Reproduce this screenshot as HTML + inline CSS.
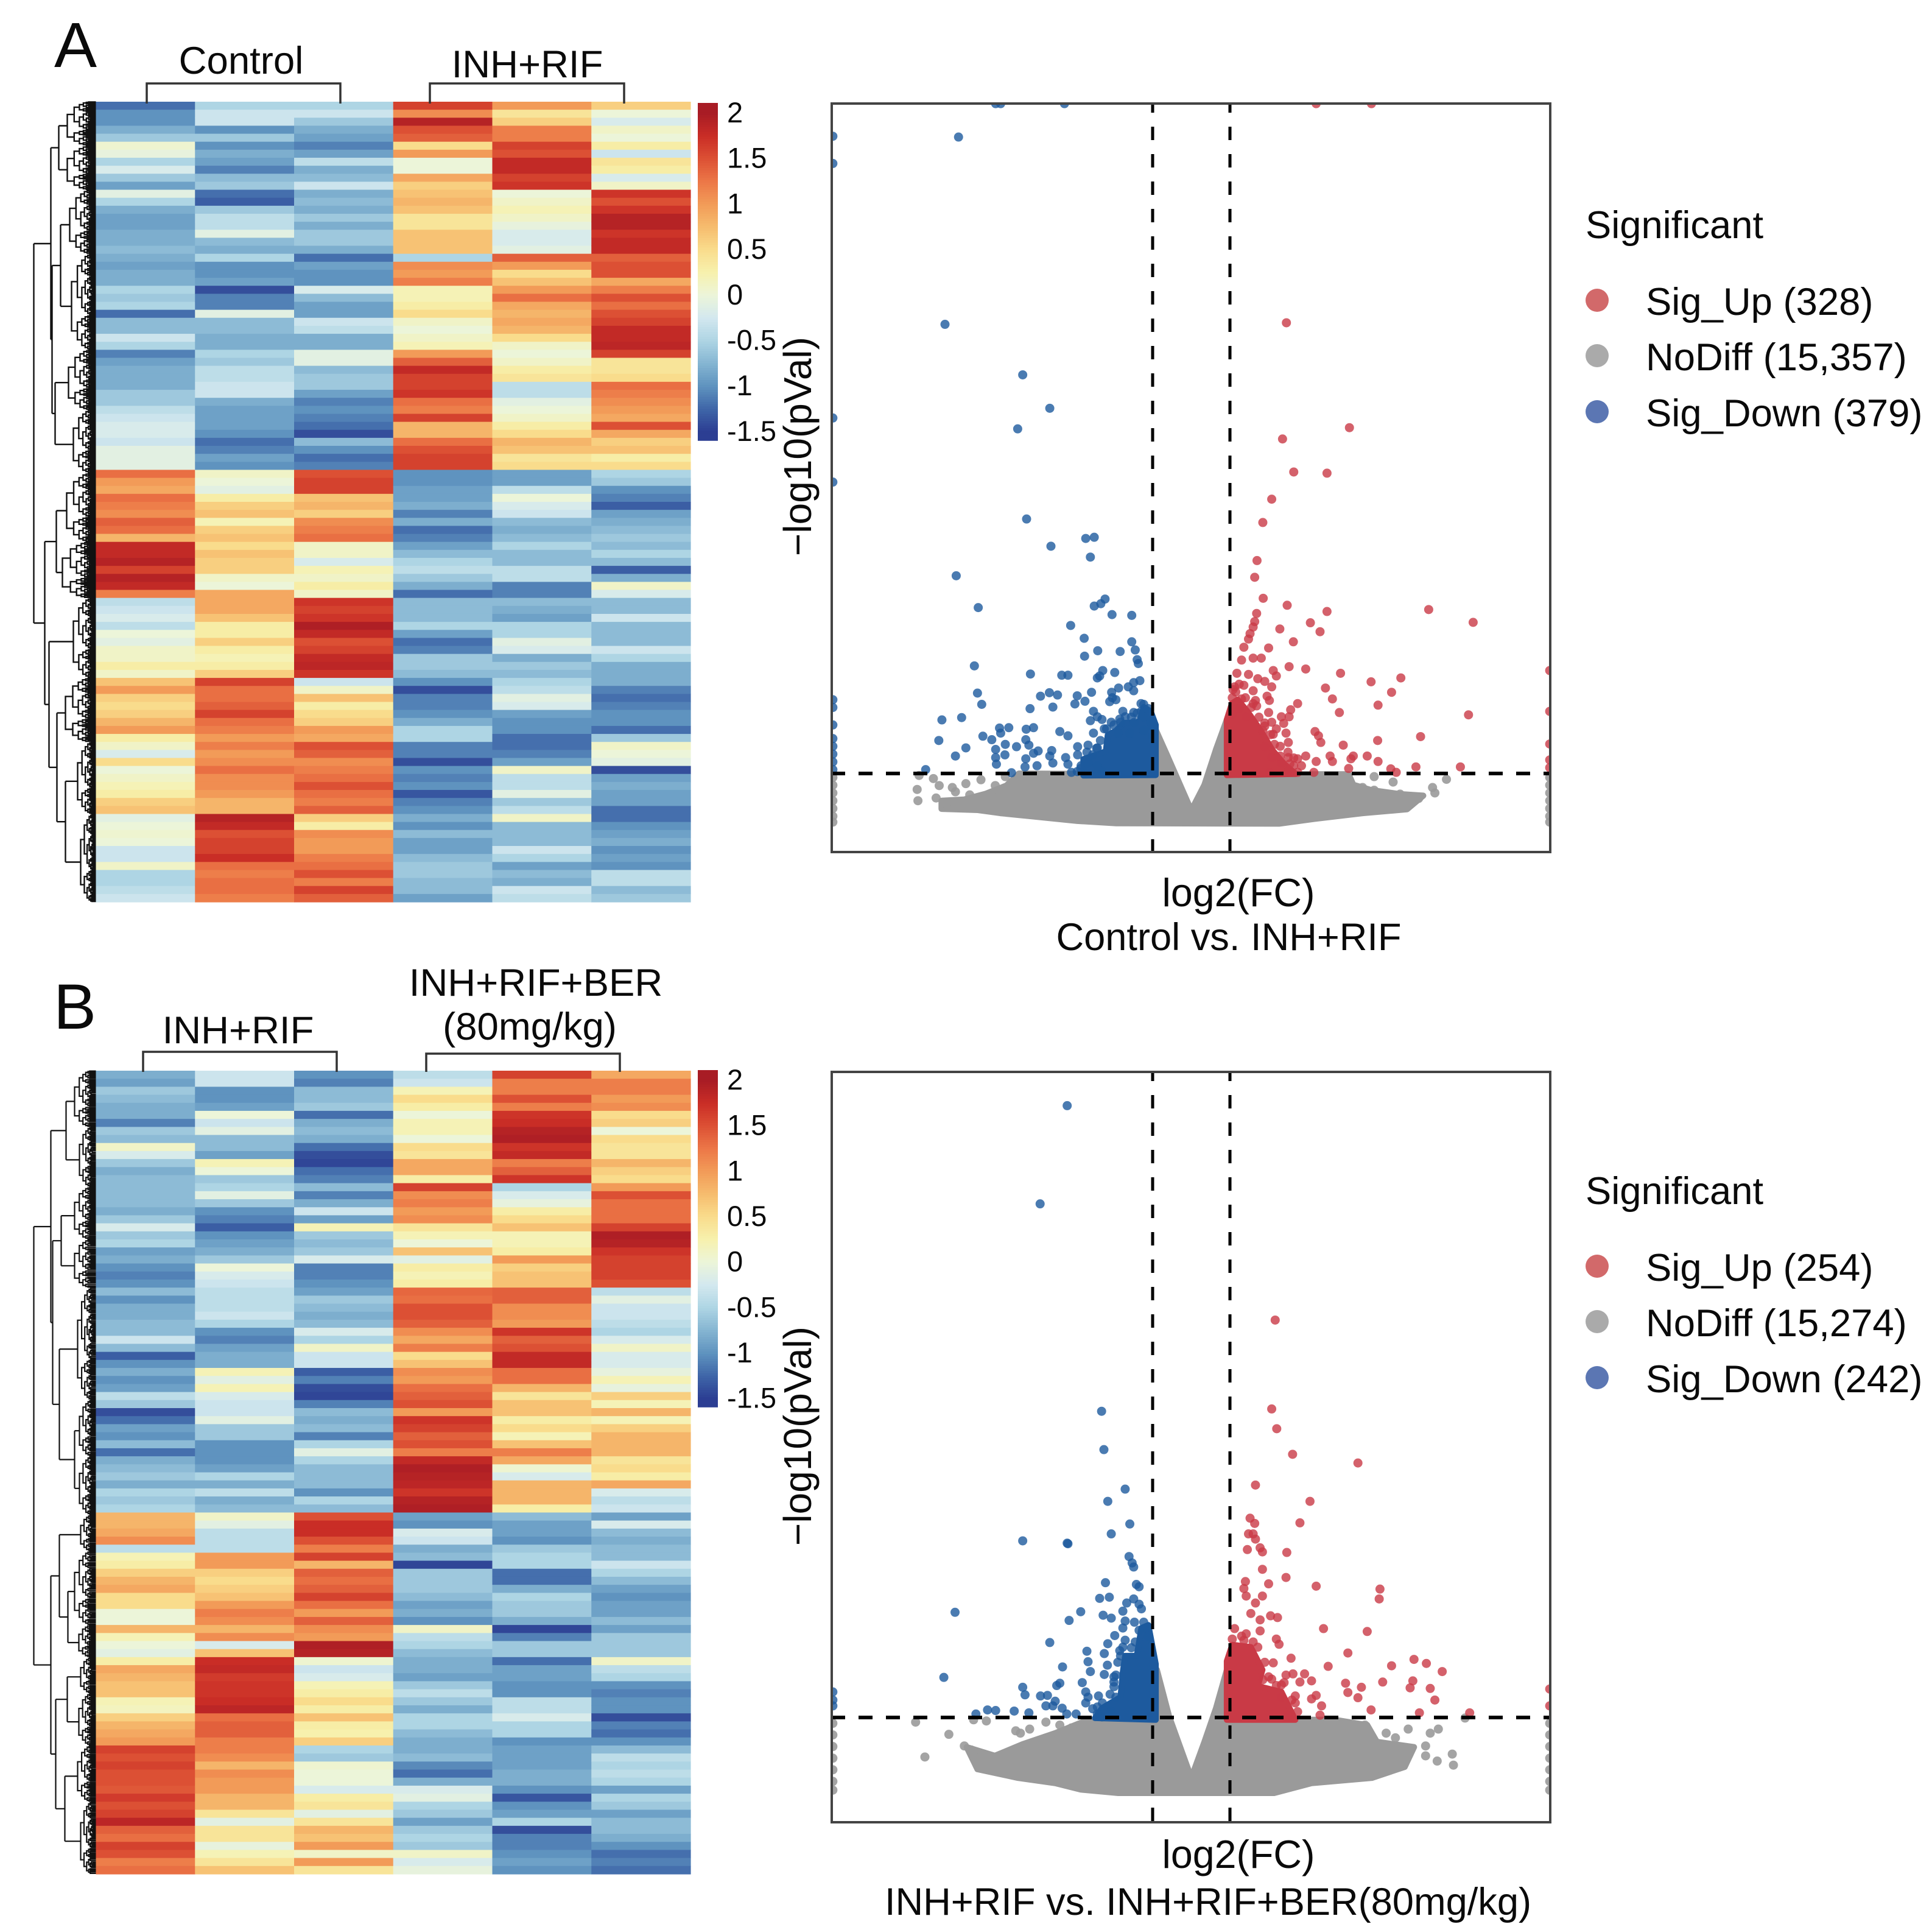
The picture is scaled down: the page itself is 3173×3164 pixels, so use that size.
<!DOCTYPE html>
<html lang="en">
<head>
<meta charset="utf-8">
<title>Heatmaps and volcano plots</title>
<style>
html,body{margin:0;padding:0;background:#fff}
svg{display:block}
text{font-family:"Liberation Sans",Arial,sans-serif;fill:#0a0a0a}
</style>
</head>
<body>
<svg id="fig" xmlns="http://www.w3.org/2000/svg" width="3173" height="3164" viewBox="0 0 3173 3164">
  <rect x="0" y="0" width="3173" height="3164" fill="#fff"/>
  <g id="layer-a"></g>
  <g id="layer-b"></g>

  <text x="89" y="110" font-size="105">A</text>
  <text x="88" y="1689" font-size="105">B</text>

  <text x="396" y="121" font-size="63.5" text-anchor="middle">Control</text>
  <text x="866" y="127" font-size="63.5" text-anchor="middle">INH+RIF</text>
  <path d="M241 170V137H559V170" fill="none" stroke="#333" stroke-width="3.5"/>
  <path d="M706 170V137H1025V170" fill="none" stroke="#333" stroke-width="3.5"/>

  <text x="391" y="1713" font-size="63.5" text-anchor="middle">INH+RIF</text>
  <text x="880" y="1635" font-size="63.5" text-anchor="middle">INH+RIF+BER</text>
  <text x="870" y="1707" font-size="63.5" text-anchor="middle">(80mg/kg)</text>
  <path d="M235 1760V1727H553V1760" fill="none" stroke="#333" stroke-width="3.5"/>
  <path d="M700 1760V1730H1018V1760" fill="none" stroke="#333" stroke-width="3.5"/>

  <text transform="translate(1332 733) rotate(-90)" font-size="64" text-anchor="middle">−log10(pVal)</text>
  <text x="2034" y="1488" font-size="64.5" text-anchor="middle">log2(FC)</text>
  <text x="2018" y="1560" font-size="63.2" text-anchor="middle">Control vs. INH+RIF</text>

  <text transform="translate(1332 2358) rotate(-90)" font-size="64" text-anchor="middle">−log10(pVal)</text>
  <text x="2034" y="3067" font-size="64.5" text-anchor="middle">log2(FC)</text>
  <text x="1984" y="3144" font-size="63.2" text-anchor="middle">INH+RIF vs. INH+RIF+BER(80mg/kg)</text>

  <g>
    <text x="2604" y="391" font-size="63.3">Significant</text>
    <circle cx="2623" cy="493" r="19" fill="#d2696a"/>
    <text x="2703" y="517" font-size="63.4">Sig_Up (328)</text>
    <circle cx="2623" cy="584" r="19" fill="#aaaaaa"/>
    <text x="2703" y="608" font-size="63.4">NoDiff (15,357)</text>
    <circle cx="2623" cy="676" r="19" fill="#5b76b3"/>
    <text x="2703" y="700" font-size="63.4">Sig_Down (379)</text>
  </g>
  <g>
    <text x="2604" y="1977" font-size="63.3">Significant</text>
    <circle cx="2623" cy="2079" r="19" fill="#d2696a"/>
    <text x="2703" y="2103" font-size="63.4">Sig_Up (254)</text>
    <circle cx="2623" cy="2170" r="19" fill="#aaaaaa"/>
    <text x="2703" y="2194" font-size="63.4">NoDiff (15,274)</text>
    <circle cx="2623" cy="2262" r="19" fill="#5b76b3"/>
    <text x="2703" y="2286" font-size="63.4">Sig_Down (242)</text>
  </g>
</svg>

<script>
/* ---------- colour scale ---------- */
const colorStops = [-1.5,-1.25,-1,-0.75,-0.5,-0.25,0,0.25,0.5,0.75,1,1.25,1.5,1.75,2];
const colorRamp = ["#2c3e93","#3f66a8","#5f93bf","#85b5d2","#aed5e4","#d3e8ef","#ecf5d9","#f7f1ad","#f9dc8c","#f6bc6e","#f29b58","#ec7747","#dc5034","#c92d26","#a81c25"];
const colorbarTicks = [2,1.5,1,0.5,0,-0.5,-1,-1.5];

/* ---------- heatmap A: one array per sample, top row first ---------- */
const heatA_control1 = [-1.2,-1,-1,-.8,-.6,.05,-.05,-.5,-.2,-.6,-.9,-.1,-.5,-.8,-.9,-.9,-.8,-.8,-.7,-.8,-.9,-.8,-.8,-.5,-.6,-.5,-1.2,-.7,-.7,-.3,-.5,-1.1,-.9,-.8,-.8,-.8,-.6,-.6,-.4,-.3,-.2,-.2,-.3,-.1,-.1,-.1,1.3,1,
 .9,1.3,1.2,1.1,1.4,1.3,.8,1.8,1.8,1.9,1.6,1.9,1.8,1.2,-.4,-.3,-.2,-.4,0,-.1,.1,.1,.3,.1,.7,1,.6,.5,.6,.8,1,.3,.1,-.2,.5,0,.1,.2,.3,.6,.7,-.1,0,.05,0,-.3,-.3,.1,-.5,-.5,-.4,-.3];
const heatA_control2 = [-.5,-.3,-.3,-1,-.6,-1,-.8,-.9,-1.1,-.7,-.6,-1.2,-1.3,-.6,-.4,-.4,-.1,-.7,-.8,-.5,-1,-1,-.9,-1.4,-1.1,-1.1,-.1,-.7,-.7,-.8,-.8,-.5,-.6,-.4,-.4,-.3,-.3,-.8,-.9,-.9,-.9,-1,-1.2,-1.1,-.9,-1,.1,0,
 -.1,.3,.6,.7,.2,.6,.7,.5,.7,.6,.6,.1,0,.9,.9,.9,.7,.3,.3,.6,.3,.2,.3,.6,1.6,1.3,1.3,1.4,1.6,1.3,1.2,1,1.2,1,1.1,1.3,1.1,1.1,1,.8,.8,1.9,1.8,1.5,1.6,1.6,1.75,1.3,1.2,1.3,1.3,1.2];
const heatA_control3 = [-.5,-.3,-.6,-.8,-.9,-1.1,-.9,-.4,-.8,-.7,-.3,-.8,-.7,-.8,-.6,-.8,-.6,-.6,-.8,-1.2,-.9,-1,-1,-.2,-.7,-.9,-.9,-.3,-.4,-.8,-.8,-.1,-.1,-.7,-.6,-.6,-.9,-1.1,-1,-1.1,-1.2,-1.4,-.7,-1,-1.2,-1.1,1.5,1.6,
 1.6,.7,.8,.6,1.1,1.2,1.3,.1,.1,-.2,.2,.1,.3,.1,1.7,1.6,1.7,1.95,1.8,1.5,1.6,1.8,1.85,1.7,-.3,.1,.7,.3,.5,.6,1,.9,1.5,1.4,1.1,1.2,1.3,1.5,1.3,1.2,1.4,.6,.3,1.1,1,1,1.2,1.3,1.5,1.2,1.6,1.4];
const heatA_inhrif1 = [1.6,1.1,1.9,1.5,1.4,.5,1,0,0,.9,.6,.7,.8,.7,.4,.4,.7,.7,.7,-.5,1.1,1,1.2,.2,.2,.3,.5,.1,0,.1,.2,1,1.4,1.8,1.6,1.6,1.7,1.3,1.2,1.6,.8,.8,1.3,1.5,1.6,1.6,-1,-1,
 -.9,-.9,-.8,-1.1,-.8,-1.2,-1.1,-.9,-.7,-.5,-.4,-.6,-.8,-1.2,-.7,-.7,-.7,-.5,-.9,-1.2,-1.1,-.6,-.6,-.7,-1,-1.4,-1.1,-1.1,-1,-.8,-.5,-.5,-1.1,-1.1,-1.4,-1,-1.1,-1,-1.35,-1.1,-1,-.8,-1,-.7,-.9,-.9,-.7,-.6,-.6,-.7,-.7,-.9];
const heatA_inhrif2 = [1,.4,.6,1.2,1.2,1.6,1.5,1.8,1.8,1.6,1.7,0,.1,.2,.1,-.05,-.2,-.2,-.1,1.4,1,.5,.7,1,1.3,.9,.8,.9,.8,.5,.1,0,.1,.3,.4,-.4,-.4,-.1,0,.1,.3,.5,.8,.7,.4,.5,-.9,-.9,
 -.4,0,-.2,-.3,-.7,-.8,-.7,-.5,-.7,-.7,-.4,-.4,-1.1,-1.1,-.7,-.8,-.9,-.5,-.5,-.1,-.2,-.8,-.6,-.7,-.5,-.4,-.1,-.2,-.9,-1,-1,-1.2,-1.2,-1.1,-.9,.1,-.4,-.4,-.1,-.6,-.4,.1,-.7,-.7,-.7,-.3,-.5,-.9,-.7,-.8,-.3,-.4];
const heatA_inhrif3 = [.6,0,-.2,.1,0,.3,-.3,.4,.3,-.2,.1,1.7,1.5,1.7,1.9,1.9,1.7,1.8,1.8,1.4,1.5,1.5,.9,1.2,1.5,1.3,1.5,1.6,1.8,1.8,1.85,1.6,.4,.4,.5,1.3,1.2,1.1,1,.9,1.5,.9,.6,.7,.3,.5,-.5,-.6,
 -1,-1.1,-1.3,-.9,-.8,-.7,-.6,-.7,-.5,-.7,-1.3,-.8,.1,-.2,-.7,-.7,-.3,-.7,-.7,-.7,-.3,-.5,-.8,-.8,-.8,-1.1,-1.2,-1.1,-1,-1,-1.2,-.6,.1,0,-.1,-1.4,-.9,-.8,-.9,-.9,-1.2,-1.2,-1,-.9,-.8,-1,-.9,-1,-.4,-.4,-.7,-.6];

/* ---------- heatmap B ---------- */
const heatB_inhrif1 = [-.8,-.9,-.6,-.7,-.8,-.8,-1.1,-.6,-.7,.1,-.2,-.6,-.8,-.7,-.7,-.7,-.7,-.8,-.6,-.2,-.6,-.5,-.9,-.8,-1,-1.1,-1,-.7,-1,-.8,-.8,-.7,-.7,-.3,-.7,-1.3,-1,-.8,-1,-.9,-.4,-.6,-1.4,-1.2,-.9,-1,-.7,-1.2,
 -.8,-.7,-.6,-.8,-.5,-.6,-.5,.8,.8,.9,1.1,-.4,.2,.3,.6,.8,.9,.5,.5,0,0,.8,.2,0,-.1,.3,.9,.8,.7,.7,.2,.15,.6,.8,.9,1,1.6,1.5,1.6,1.5,1.5,1.45,1.65,1.5,1.6,1.85,1.4,1.3,1.6,1.5,1.2,1.3];
const heatB_inhrif2 = [-.3,-.3,-1,-1,-.9,0,-.3,-.1,-.7,-.7,-.9,.2,0,-.6,-.5,-.1,-.6,-1,-1.1,-1.3,-1,-.9,-.8,-.6,0,-.2,-.3,-.4,-.4,-.4,-.3,-.5,-1,-1.1,-.9,-.8,-.8,.2,-.1,.2,-.2,-.3,-.3,-.1,-.6,-.6,-1,-1,
 -1,-.9,-.5,-.8,-.4,-.8,-.7,.1,-.1,-.4,-.4,-.4,1,1,.6,.5,.6,.7,1,1.2,1.1,.8,1.1,-.2,.7,1.75,1.8,1.65,1.7,1.7,1.75,1.85,1.3,1.4,1.4,1.2,1.2,1.1,.8,1.1,1,1,.8,.8,.4,-.1,.4,.4,-.05,.2,.4,.7];
const heatB_inhrif3 = [-1,-1.1,-.7,-.7,-.6,-1.2,-.8,-.7,-.8,-1.2,-1.4,-1.45,-1.2,-1.1,-.7,-1.1,-.8,-.3,-.9,.2,-.6,-.7,-.6,-.2,-1.1,-1.1,-1,-.9,-.6,-.7,-.8,-.7,-.2,-.5,.1,-.3,-.3,-1.3,-1.1,-1.4,-1.45,-1.1,-.7,-.8,-.7,-1.1,-.5,-.1,
 -.5,-.7,-.7,-.7,-1,-.5,-.7,1.5,1.75,1.75,1.5,1.2,1.6,.8,1.4,1.3,1.4,1.6,1.3,1,1.4,1.1,1,1.95,1.9,.05,-.3,-.2,.2,.3,.5,.3,.7,.3,.25,.6,-.5,-.6,.05,0,0,-.2,.3,.4,-.1,.4,.8,.7,1,.1,1,.4];
const heatB_ber1 = [-.4,-.3,.2,.5,.3,0,.2,.2,0,.5,.4,.9,.9,.3,1.6,1.1,1.2,1,1.1,.4,.2,0,.7,-.1,.3,.2,.3,1.35,1.3,1.5,1.5,1.4,1.1,.9,1.2,.5,.7,1.1,1,1.3,1.4,1.5,1,1.7,1.6,1.4,1.5,1.2,
 1.8,1.95,1.9,1.85,1.7,1.9,1.95,-.9,-1,-.2,-.3,-.8,-.7,-1.45,-.6,-.6,-.6,-.7,-.9,-.8,-1,.1,-.4,-.5,-.7,-.8,-.8,-.9,-.6,-.4,-.6,-.8,-.5,-.5,-.7,-.8,-.8,-.7,-1.05,-1.2,-.8,-.2,-.1,-.5,-.6,-.9,-.6,-.5,-.6,.1,-.2,-.05];
const heatB_ber2 = [1.6,1.2,1.2,1.5,1.2,1.7,1.75,1.9,1.95,1.7,1.8,1.2,1.4,1.7,-.5,-.2,-.05,.3,.5,.7,.2,.2,.3,1,.6,.7,.7,1.4,1.4,1.1,1.1,1,1.7,1.4,1.5,1.8,1.8,1.3,1.3,.8,.4,.7,.7,.3,.5,.2,.7,1.2,
 .9,.05,-.2,.8,.8,.8,.3,-.7,-.9,-.9,-1,-.6,-.5,-.5,-1.2,-1.2,-.8,-.5,-.6,-.6,-.8,-1.45,-1.1,-.6,-.6,-1.2,-.9,-.9,-1,-1,-.4,-.4,-.2,-.5,-.5,-1,-.9,-.9,-.9,-.8,-.8,-1,-1.35,-1,-.9,-.5,-1.4,-1.1,-1.1,-1,-.9,-1];
const heatB_ber3 = [.9,1.2,1.2,1,1.1,.5,.6,0,.5,.4,.4,.8,.6,.5,1,1.5,1.3,1.3,1.3,1.6,1.95,1.9,1.7,1.6,1.6,1.6,1.5,-.4,-.1,-.3,-.3,-.4,-.5,-.2,.1,-.2,-.2,-.05,.2,-.05,.6,.2,.8,.2,.6,.8,.8,.8,
 .4,.5,.3,.9,-.2,-.4,-.3,-.9,-.2,-.7,-.8,-.7,-.7,-.3,-.5,-.7,-.9,-1,-.9,-.9,-.7,-.9,-.6,-.6,-.6,.1,-.4,-.5,-1,-1.1,-1,-1,-1.4,-1.1,-1.2,-1,-.7,-.4,-.5,-.4,-.5,-.9,-.5,-.6,-.9,-.7,-.7,-.8,-1,-1.2,-1.1,-1.2];

/* ---------- dendrograms: [height, childA, childB]; leaf = {from,to,height} in row units ---------- */
const treeA = [102,
 [74,
  [61,{from:0,to:5.5,height:47},{from:5.5,to:11,height:47}],
  [72,
   [58,{from:11,to:19,height:43},{from:19,to:31,height:40}],
   [67,{from:31,to:38.5,height:45},{from:38.5,to:46.4,height:37}]]],
 [84,
  [65,{from:46.4,to:55,height:48},{from:55,to:62,height:55}],
  [77,
   {from:62,to:72,height:37},
   [64,{from:72,to:80,height:50},
    [50,{from:80,to:89,height:30},{from:89,to:100,height:25}]]]]];
const treeB = [102,
 [74,
  [49,{from:0,to:7,height:35},{from:7,to:14.5,height:27}],
  [71,
   [57,{from:14.5,to:21,height:35},{from:21,to:27,height:35}],
   [60,{from:27,to:41,height:30},
    [35,{from:41,to:48,height:27},{from:48,to:55.3,height:27}]]]],
 [74,
  [60,
   {from:55.3,to:59.8,height:25},
   [46,{from:59.8,to:69,height:35},{from:69,to:73,height:28}]],
  [66,
   [47,{from:73,to:77.5,height:25},{from:77.5,to:84,height:28}],
   [51,{from:84,to:91,height:30},{from:91,to:100,height:25}]]]];

/* ---------- volcano A: [log2FC, -log10 p] ---------- */
const volA_down = [[-4.93,18.54],[-5.06,18.54],[-3.28,18.54],[-9.27,17.7],[-9.27,17],[-6.02,17.68],[-6.37,12.86],[-4.36,11.56],[-3.66,10.7],[-4.49,10.17],[-9.27,10.45],[-9.27,8.8],[-4.26,7.85],[-3.63,7.15],[-2.73,7.35],[-2.51,7.38],[-2.61,6.87],[-6.08,6.39],[-5.51,5.57],
[-2.23,5.79],[-2.34,5.67],[-2.51,5.61],[-2.05,5.39],[-1.54,5.37],[-3.12,5.11],[-2.77,4.78],[-1.54,4.69],[-1.45,4.48],[-2.42,4.46],[-1.84,4.44],[-2.76,4.32],[-1.4,4.23],[-1.37,4.13],[-5.61,4.07],[-4.16,3.86],[-3.35,3.83],[-3.19,3.83],[-2.29,3.95],[-1.98,3.9],[-2.43,3.76],[-2.37,3.81],[-1.33,3.69],[-1.49,3.64],[-1.63,3.53],[-1.88,3.5],[-1.49,3.43],[-2.06,3.39],[-2.58,3.39],[-5.53,3.37],[-3.67,3.38],[-3.46,3.32],[-3.9,3.29],[-2.95,3.3],[-2.04,3.25],[-3.01,3.09],[-2.75,3.16],[-2.11,3.15],[-1.95,3.2],[-5.42,3.08],[-4.17,2.97],[-3.58,3.01],[-6.45,2.68],[-5.94,2.74],[-4.72,2.48],[-4.96,2.47],[-4.93,2.34],[-4.27,2.44],[-4.08,2.48],[-5.39,2.26],[-6.53,2.15],[-5.16,2.17],[-3.4,2.38],[-3.19,2.27],[-4.28,2.17],[-4.2,2.03],[-4.81,2.05],[-4.52,1.99],[-5.06,1.92],[-4.82,1.78],[-5.83,1.96],[-6.1,1.75],[-5.06,1.71],[-5.04,1.54],[-3.96,1.88],[-4.08,1.82],[-3.61,1.89],[-3.66,1.75],[-3.58,1.57],[-4.28,1.68],[-4.3,1.47],[-3.99,1.5],[-4.65,1.32],[-6.87,1.4],[-3.25,1.71],[-3.19,1.54],[-3.1,1.33],[-2.94,1.99],[-2.94,1.78],[-2.67,2.03],[-2.43,1.96],[-2.55,1.78],[-2.67,1.57],[-2.86,1.43],[-2.43,1.5],[-2.31,1.36],
[-2.53,2.9],[-2.43,2.76],[-2.61,2.66],[-2.31,2.69],[-2.53,2.34],[-2.07,2.62],[-2.19,2.45],[-1.77,2.9],[-1.83,2.62],[-1.23,3.08],[-1.11,2.97],[-1.29,2.9],[-1.49,2.87],[-1.71,2.76],[-1.23,2.76],[-1.05,2.62],[-1.47,2.62],[-1,2.48],[-1.89,2.34],[-1.59,2.34],[-1.23,2.41],[-1,2.27],
[-2.85,1.5],[-2.7,1.85],[-2.45,1.95],[-2.35,2.15],[-2.25,2.45],[-2,2.55],[-1.85,2.7],[-1.55,2.75],[-1.4,2.85],[-1.3,3.1],[-2.95,1.35],
[-9.27,3.2],[-9.27,3],[-9.27,2.55],[-9.27,2.2],[-9.27,2],[-9.27,1.8],[-9.27,1.6],[-9.27,1.4]];
const volA_downDense = [[-2.79,1.25],[-2.79,1.67],[-2.21,1.87],[-2.16,2.29],[-1.95,2.4],[-1.75,2.6],[-1.35,2.62],[-1.23,3.01],[-1.05,2.9],[-.92,2.55],[-.92,1.26]];
const volA_up = [[3.23,18.54],[4.66,18.54],[2.46,12.9],[4.09,10.2],[2.36,9.91],[2.65,9.06],[3.51,9.03],[2.08,8.36],[1.85,7.76],[1.7,6.78],
[1.64,6.35],[1.86,5.81],[2.48,5.63],[3.51,5.47],[1.69,5.42],[1.64,5.21],[1.6,5.07],[6.14,5.52],[7.29,5.19],[3.08,5.18],[2.29,5.02],[3.33,4.95],[1.52,4.9],[1.48,4.76],[2.64,4.69],[1.36,4.55],[2,4.53],[1.3,4.22],[1.6,4.27],[1.81,4.27],[2.53,4.05],[2.96,3.99],[2.12,3.95],[2.2,3.81],[3.86,3.88],[5.42,3.76],[4.65,3.66],[1.18,3.88],[1.48,3.85],[1.72,3.74],[1.9,3.67],[2.08,3.53],[3.47,3.5],[5.18,3.39],[1.12,3.53],[1.36,3.57],[1.6,3.43],[1.96,3.29],[3.65,3.22],[1.06,3.25],[1.3,3.22],[1.66,3.18],[2.02,3.18],[2.75,3.1],[4.83,3.06],[2.57,2.94],[3.83,2.87],[7.17,2.81],[1.69,3.04],[1.24,2.97],[2,2.87],[2.33,2.76],[2.53,2.76],[2.08,2.62],[2.39,2.59],[1.9,2.52],[2.2,2.45],[3.2,2.38],[3.29,2.27],[3.35,2.1],[2.45,2.34],[2.12,2.31],[5.93,2.25],[4.82,2.15],[2.51,2.1],[1.9,1.99],[3.93,2.03],[2.08,1.71],[2.51,1.71],[2.96,1.75],[3.59,1.75],[4.19,1.75],[4.55,1.75],[2.75,1.68],[3.23,1.61],[3.65,1.61],[4.13,1.68],[4.83,1.61],[2.33,1.57],[2.65,1.5],[4.07,1.43],[5.16,1.42],[5.3,1.33],[5.81,1.47],[6.96,1.47],[3.17,1.33],[2.02,1.33],[2.51,1.36],[2.75,1.33],
[1.08,3.46],[1.24,3.6],[1.15,3.4],[1.4,3.25],[1.55,3],[1.75,2.75],[1.6,3.1],[1.9,2.6],[2.05,2.3],[1.85,2.4],[2.15,2.05],[2.3,2],[2.5,1.85],[2.3,1.75],[2.65,1.7],[2.85,1.5],[2.55,1.55],[1.06,2.83],[1.42,2.76],
[9.27,3.95],[9.27,2.9],[9.27,2.06],[9.27,1.65],[9.27,1.45]];
const volA_upDense = [[.92,1.26],[.92,2.69],[1.05,3.1],[1.2,3.2],[1.45,2.9],[1.8,2.4],[2.1,1.9],[2.4,1.55],[2.7,1.29]];
const volA_noDiff = [[-7.04,1.25],[-6.67,1.17],[-6.52,.99],[-6.18,.94],[-5.83,1.04],[-5.44,1.14],[-7.09,.89],[-7.07,.6],[-6.6,.67],[-6.33,.52],[-5.94,.52],[-6.1,.83],[-5.73,.75],[-5.55,.47],[-5.07,.99],[-4.81,1.22],
[4.73,1.22],[5.22,1.08],[6.6,1.15],[6.24,.94],[6.3,.8],[4.43,.94],[4.73,.87],[5.16,.7],[5.52,.45],[5.88,.66],[5.4,.77],[4.67,.45],[4.19,.73],[5.1,.56],[5.64,.7],
[-9.27,1.2],[-9.27,1],[-9.27,.8],[-9.27,.6],[-9.27,.4],[-9.27,.2],[-9.27,.05],[9.27,1.2],[9.27,1],[9.27,.8],[9.27,.6],[9.27,.4],[9.27,.2],[9.27,.05]];
const volA_noDiffEnvelope = [[-6.46,.39],[-6.46,.6],[-5.88,.63],[-5.31,.78],[-4.78,.99],[-4.46,1.3],[-.93,1.28],[-.93,2.45],[-.63,1.78],[0,.35],[.34,1.01],[.64,1.92],[.92,2.69],[1.06,1.28],[4.07,1.28],[4.19,1.01],[4.67,.87],[5.4,.77],[6,.73],[5.58,.38],[4.43,.28],[3.23,.14],[2.27,.01],[-1.94,.02],[-2.95,.08],[-4.15,.2],[-4.94,.28],[-5.52,.36]];

/* ---------- volcano B ---------- */
const volB_down = [[-3.21,11.83],[-3.91,10.14],[-2.32,6.57],[-2.26,5.91],[-4.36,4.34],[-3.21,4.3],[-6.11,3.11],[-6.4,1.99],[-1.71,5.23],[-2.16,5.02],
[-1.59,4.63],[-2.07,4.46],[-3.19,4.29],[-1.61,4.07],[-1.53,3.96],[-1.49,3.89],[-2.22,3.62],[-1.42,3.59],[-1.35,3.55],[-2.37,3.35],[-2.12,3.37],[-1.49,3.34],[-1.67,3.27],[-1.35,3.25],[-1.29,3.17],[-1.77,3.13],[-2.86,3.12],[-2.28,3.06],[-2.07,3.01],[-3.16,2.97],[-1.71,2.96],[-1.47,2.94],[-1.23,2.94],[-1.77,2.84],[-1.17,2.84],[-1.98,2.71],[-1.11,2.7],[-1.71,2.63],[-2.16,2.57],[-3.66,2.59],[-1.77,2.51],[-2.7,2.44],[-2.25,2.4],[-1.83,2.36],[-2.67,2.26],[-2.17,2.2],[-3.33,2.17],[-2.61,2.09],[-2.25,2.04],[-1.95,2.03],[-2,1.91],[-2.82,1.9],[-3.4,1.89],[-3.48,1.85],[-4.36,1.82],[-2,1.83],[-4.3,1.69],[-2.73,1.74],[-2.67,1.65],[-2.4,1.67],[-3.9,1.67],[-3.72,1.68],[-1.95,1.65],[-2.73,1.55],[-3.52,1.58],[-3.76,1.5],[-3.58,1.5],[-3.34,1.46],[-5.27,1.43],[-5.06,1.42],[-4.58,1.41],[-4.2,1.38],[-5.57,1.36],[-3.22,1.36],[-2.98,1.36],[-2.43,1.48],[-2.43,1.36],[-2.07,1.41],[-2.31,1.31],
[-2.55,1.45],[-2.3,1.55],[-2.1,1.7],[-2,2],[-1.9,2.25],[-1.85,2.45],[-1.55,2.5],[-1.45,2.6],[-1.35,2.8],
[-9.27,1.74],[-9.27,1.5],[-9.27,1.6]];
const volB_downDense = [[-2.49,1.29],[-2.31,1.46],[-1.83,1.65],[-1.77,2.08],[-1.71,2.36],[-1.41,2.36],[-1.29,2.84],[-1.11,2.89],[-.92,2.22],[-.92,1.26]];
const volB_up = [[2.17,8.14],[2.08,6.61],[2.21,6.27],[2.62,5.83],[4.31,5.68],[1.66,5.3],[3.07,5.02],
[1.52,4.73],[1.64,4.64],[2.81,4.65],[1.48,4.46],[1.6,4.46],[1.66,4.37],[1.45,4.19],[1.78,4.22],[1.84,4.15],[2.47,4.14],[1.84,3.85],[2.45,3.71],[1.4,3.64],[2,3.6],[1.36,3.52],[3.23,3.56],[4.88,3.51],[4.86,3.34],[1.42,3.39],[1.84,3.39],[1.66,3.27],[1.54,3.09],[2.05,3.05],[2.23,3.02],[1.78,2.98],[1.12,2.83],[3.42,2.83],[4.55,2.78],[1.42,2.74],[1.78,2.79],[2.2,2.65],[2.27,2.56],[1.36,2.63],[1.72,2.51],[4.05,2.41],[2.58,2.32],[5.76,2.3],[6.08,2.23],[5.18,2.19],[3.54,2.18],[2.12,2.24],[6.49,2.09],[2.63,2.05],[2.45,2.03],[2.93,2.05],[2.08,1.96],[3.11,1.93],[2.81,1.91],[3.99,1.89],[4.95,1.91],[5.73,1.93],[4.4,1.82],[5.66,1.81],[6.18,1.8],[4.05,1.73],[2.33,1.86],[4.31,1.64],[6.3,1.6],[3.23,1.68],[2.69,1.67],[3.11,1.62],[3.37,1.5],[2.69,1.55],[2.33,1.65],[4.65,1.43],[5.9,1.38],[7.2,1.38],[3.33,1.34],[2.51,1.34],
[1.06,2.65],[1.3,2.7],[1.6,2.6],[1.9,2.25],[2,2],[1.85,1.95],[2.4,1.9],[2.6,1.6],[2.75,1.4],[2.2,1.85],
[9.27,1.79],[9.27,1.5]];
const volB_upDense = [[.92,1.26],[.92,2.27],[1.06,2.55],[1.54,2.51],[1.84,2.12],[1.72,1.84],[2.33,1.74],[2.69,1.26]];
const volB_noDiff = [[-7.13,1.22],[-6.27,1.01],[-6.89,.62],[-5.87,.81],[-5.69,.74],[-5.51,.6],[-5.3,1.24],[-5.63,1.26],[-4.54,1.07],[-4.42,1.03],[-4.18,1.1],[-3.76,1.22],[-3.4,1.17],[-3.1,1.12],[4.49,1.17],[5.61,1.1],[6.18,1.03],[6.39,1.1],[7.08,1.29],[6.75,.67],[6.78,.48],[6.36,.55],[6.06,.81],[6.06,.64],[5.04,1.03],[5.28,.95],
[-9.27,1.2],[-9.27,1],[-9.27,.8],[-9.27,.6],[-9.27,.4],[-9.27,.2],[-9.27,.05],[9.27,1.2],[9.27,1],[9.27,.8],[9.27,.6],[9.27,.4],[9.27,.2],[9.27,.05]];
const volB_noDiffEnvelope = [[-5.53,.41],[-5.81,.79],[-5.08,.64],[-4.36,.84],[-3.52,1.03],[-2.67,1.26],[-.93,1.26],[-.89,2.12],[-.57,1.31],[0,.26],[.34,.88],[.64,1.46],[.92,2.12],[1.04,1.26],[3.71,1.26],[4.55,1.17],[4.8,.88],[5.76,.79],[5.52,.45],[4.67,.26],[3.11,.17],[2.14,0],[-1.89,0],[-2.86,.06],[-3.52,.17],[-4.48,.26]];

/* thresholds */
const foldThreshold = [-1, 1];
const pThreshold = 1.3;

/* ---------- helpers ---------- */
const NS = 'http://www.w3.org/2000/svg';
function mk(parent, tag, attrs){
  const el = document.createElementNS(NS, tag);
  for (const k in attrs) el.setAttribute(k, attrs[k]);
  parent.appendChild(el);
  return el;
}
function hex(c){ return [parseInt(c.slice(1,3),16),parseInt(c.slice(3,5),16),parseInt(c.slice(5,7),16)]; }
function colorOf(v){
  const lo = colorStops[0], hi = colorStops[colorStops.length-1];
  v = Math.max(lo, Math.min(hi, v));
  let i = 0;
  while (i < colorStops.length-2 && v > colorStops[i+1]) i++;
  const t = (v-colorStops[i])/(colorStops[i+1]-colorStops[i]);
  const a = hex(colorRamp[i]), b = hex(colorRamp[i+1]);
  return 'rgb('+a.map((p,j)=>Math.round(p+(b[j]-p)*t)).join(',')+')';
}

function drawHeatmap(g, columns, box, tag){
  const colW = (box.x1-box.x0)/columns.length;
  columns.forEach((col, c) => {
    const rowH = (box.y1-box.y0)/col.length;
    col.forEach((v, r) => {
      const cell = mk(g, 'rect', {
        x: box.x0 + c*colW,
        y: box.y0 + r*rowH,
        width: colW + 0.6,
        height: rowH + 0.6,
        fill: colorOf(v)
      });
      
      
    });
  });
}

function drawColorbar(g, box, tag){
  const yOf = v => box.y2 + (2 - v) * box.unit;
  const vTop = 2 + (box.y2 - box.top) / box.unit;
  const vBottom = 2 - (box.bottom - box.y2) / box.unit;
  const steps = 140;
  for (let i = 0; i < steps; i++) {
    const v = vTop - (vTop - vBottom) * i / steps;
    const seg = mk(g, 'rect', {
      x: box.x, y: yOf(v), width: box.w, height: (box.bottom-box.top)/steps + 0.8, fill: colorOf(v)
    });
    
    
  }
  colorbarTicks.forEach(t => {
    const lab = mk(g, 'text', { x: box.x + 48, y: yOf(t) + 17, 'font-size': 47 });
    lab.textContent = String(t);
    
    
  });
}

function drawDendrogram(g, tree, box, rows, minSpan, width, shrink, tag){
  const rowH = (box.y1-box.y0)/rows;
  const xOf = h => box.x0 - h;
  const yOf = r => box.y0 + r*rowH;
  let d = '';
  function comb(a, b, h, flip){
    const span = (b-a)*rowH;
    if (span < minSpan) {
      const ym = yOf((a+b)/2);
      d += 'M'+xOf(h).toFixed(1)+' '+ym.toFixed(1)+'H'+box.x0;
      return ym;
    }
    const f = flip ? 0.36 : 0.64;
    const m = a + (b-a)*f;
    const hk = h*shrink;
    const y1 = comb(a, m, hk, !flip);
    const y2 = comb(m, b, hk, !flip);
    const x = xOf(h).toFixed(1);
    d += 'M'+xOf(hk).toFixed(1)+' '+y1.toFixed(1)+'H'+x+'V'+y2.toFixed(1)+'H'+xOf(hk).toFixed(1);
    return (y1+y2)/2;
  }
  function walk(node, parentH){
    let y;
    if (Array.isArray(node)) {
      const y1 = walk(node[1], node[0]);
      const y2 = walk(node[2], node[0]);
      const x = xOf(node[0]).toFixed(1);
      d += 'M'+x+' '+y1.toFixed(1)+'V'+y2.toFixed(1);
      y = (y1+y2)/2;
      if (parentH !== null) d += 'M'+xOf(parentH).toFixed(1)+' '+y.toFixed(1)+'H'+x;
    } else {
      y = comb(node.from, node.to, node.height, false);
      d += 'M'+xOf(parentH).toFixed(1)+' '+y.toFixed(1)+'H'+xOf(node.height).toFixed(1);
    }
    return y;
  }
  walk(tree, null);
  const p = mk(g, 'path', { d: d, fill: 'none', stroke: '#111', 'stroke-width': width });
  
  
}

function drawVolcano(g, vol, tag){
  const xOf = v => vol.xZero + vol.xUnit*v;
  const yOf = v => vol.yZero - vol.yUnit*v;
  const ptsOf = list => list.map(p => xOf(p[0]).toFixed(1)+','+yOf(p[1]).toFixed(1)).join(' ');
  const clipId = 'clip-' + tag;
  const defs = mk(g, 'defs', {});
  const cp = mk(defs, 'clipPath', { id: clipId });
  mk(cp, 'rect', { x: vol.x0, y: vol.y0, width: vol.x1-vol.x0, height: vol.y1-vol.y0 });
  const plot = mk(g, 'g', { 'clip-path': 'url(#'+clipId+')' });
  
  

  const env = mk(plot, 'polygon', {
    points: ptsOf(vol.envelope),
    fill: '#9a9a9a', stroke: '#9a9a9a', 'stroke-width': 10, 'stroke-linejoin': 'round'
  });
  
  

  vol.noDiff.forEach(p => {
    const dot = mk(plot, 'circle', { cx: xOf(p[0]), cy: yOf(p[1]), r: 7.5, fill: '#9a9a9a', 'fill-opacity': 0.9 });
    
    
  });

  const upEnv = mk(plot, 'polygon', {
    points: ptsOf(vol.upDense),
    fill: '#c93a46', stroke: '#c93a46', 'stroke-width': 10, 'stroke-linejoin': 'round'
  });
  
  

  vol.up.forEach(p => {
    const dot = mk(plot, 'circle', { cx: xOf(p[0]), cy: yOf(p[1]), r: 7.5, fill: '#c93a46', 'fill-opacity': 0.8 });
    
    
  });

  const downEnv = mk(plot, 'polygon', {
    points: ptsOf(vol.downDense),
    fill: '#1d5a9e', stroke: '#1d5a9e', 'stroke-width': 10, 'stroke-linejoin': 'round'
  });
  
  

  vol.down.forEach(p => {
    const dot = mk(plot, 'circle', { cx: xOf(p[0]), cy: yOf(p[1]), r: 7.5, fill: '#1d5a9e', 'fill-opacity': 0.8 });
    
    
  });

  foldThreshold.forEach(v => {
    const line = mk(g, 'line', {
      x1: xOf(v), x2: xOf(v), y1: vol.y0, y2: vol.y1,
      stroke: '#000', 'stroke-width': 5, 'stroke-dasharray': '22 23', 'stroke-dashoffset': 7
    });
    
    
  });
  const h = mk(g, 'line', {
    x1: vol.x0, x2: vol.x1, y1: yOf(pThreshold), y2: yOf(pThreshold),
    stroke: '#000', 'stroke-width': 6, 'stroke-dasharray': '23 22', 'stroke-dashoffset': 1
  });
  
  

  const frame = mk(g, 'rect', {
    x: vol.x0, y: vol.y0, width: vol.x1-vol.x0, height: vol.y1-vol.y0,
    fill: 'none', stroke: '#444', 'stroke-width': 4
  });
  
  
}

/* ---------- compose ---------- */
const layerA = document.getElementById('layer-a');
const layerB = document.getElementById('layer-b');

const boxA = { x0: 157.5, x1: 1134, y0: 167, y1: 1481 };
const boxB = { x0: 157.5, x1: 1134, y0: 1758, y1: 3077 };

drawHeatmap(layerA, [heatA_control1,heatA_control2,heatA_control3,heatA_inhrif1,heatA_inhrif2,heatA_inhrif3], boxA, 'a');
drawDendrogram(layerA, treeA, boxA, 100, 2.2, 2.4, 0.76, 'a');
drawColorbar(layerA, { x: 1146, w: 33, top: 169, bottom: 723, y2: 184, unit: 149.4 }, 'a');
drawVolcano(layerA, {
  x0: 1366, x1: 2546, y0: 170, y1: 1399,
  xZero: 1956.5, xUnit: 63.5, yZero: 1353, yUnit: 63.8,
  envelope: volA_noDiffEnvelope, noDiff: volA_noDiff,
  up: volA_up, upDense: volA_upDense, down: volA_down, downDense: volA_downDense
}, 'a');

drawHeatmap(layerB, [heatB_inhrif1,heatB_inhrif2,heatB_inhrif3,heatB_ber1,heatB_ber2,heatB_ber3], boxB, 'b');
drawDendrogram(layerB, treeB, boxB, 100, 2.8, 2.2, 0.78, 'b');
drawColorbar(layerB, { x: 1146, w: 33, top: 1757, bottom: 2310, y2: 1772, unit: 149.3 }, 'b');
drawVolcano(layerB, {
  x0: 1366, x1: 2546, y0: 1760, y1: 2992,
  xZero: 1956.5, xUnit: 63.5, yZero: 2944, yUnit: 95.4,
  envelope: volB_noDiffEnvelope, noDiff: volB_noDiff,
  up: volB_up, upDense: volB_upDense, down: volB_down, downDense: volB_downDense
}, 'b');
</script>
</body>
</html>
